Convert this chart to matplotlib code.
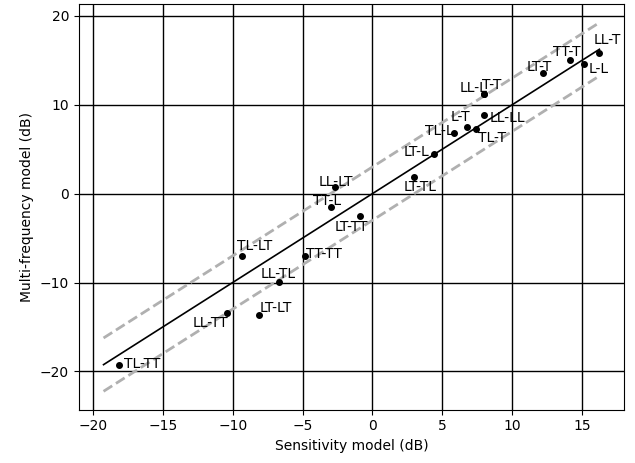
import numpy as np
import matplotlib
matplotlib.use("Agg")
import matplotlib.pyplot as plt

# pair names, sensitivity model (x) and multi-frequency model (y), dB
names = ["LL-T", "TT-T", "L-L", "LT-T", "LL-L", "T-T", "LL-LL", "L-T", "TL-T",
         "TL-L", "LT-L", "LT-TL", "LL-LT", "TT-L", "LT-TT", "TL-LT", "TT-TT",
         "LL-TL", "LT-LT", "LL-TT", "TL-TT"]
sens_db = [16.24, 14.1, 15.17, 12.19, 7.95, 7.97, 7.95, 6.74, 7.38,
           5.81, 4.38, 2.95, -2.69, -3.0, -0.9, -9.33, -4.79,
           -6.71, -8.14, -10.38, -18.12]
multi_db = [15.86, 15.0, 14.58, 13.6, 11.2, 11.22, 8.83, 7.44, 7.25,
            6.84, 4.47, 1.84, 0.71, -1.5, -2.56, -6.99, -7.03,
            -9.96, -13.7, -13.4, -19.24]
band_db = 3.0

# label placement (offset in pixels, alignment)
label_pos = {
    "LL-T": (8, 13, "center"), "TT-T": (-3, 8, "center"), "L-L": (4, -5, "left"),
    "LT-T": (-4, 6, "center"), "LL-L": (4, 6, "right"), "T-T": (-2, 9, "left"),
    "LL-LL": (6, -3, "left"), "L-T": (-6, 10, "center"), "TL-T": (2, -9, "left"),
    "TL-L": (0, 2, "right"), "LT-L": (-4, 2, "right"), "LT-TL": (6, -10, "center"),
    "LL-LT": (1, 5, "center"), "TT-L": (-3, 6, "center"), "LT-TT": (-8, -11, "center"),
    "TL-LT": (-5, 10, "left"), "TT-TT": (1, 2, "left"), "LL-TL": (0, 8, "center"),
    "LT-LT": (1, 7, "left"), "LL-TT": (1, -10, "right"), "TL-TT": (5, 1, "left"),
}

x = np.array(sens_db)
y = np.array(multi_db)
lo = min(x.min(), y.min())
hi = max(x.max(), y.max())
ref = np.array([lo, hi])

fig, ax = plt.subplots(figsize=(6.35, 4.63), dpi=100)
fig.subplots_adjust(left=0.124, right=0.983, top=0.991, bottom=0.115)

ax.plot(ref, ref, color="black", linewidth=1.2)
ax.plot(ref, ref + band_db, color="#b0b0b0", linestyle="--", linewidth=2)
ax.plot(ref, ref - band_db, color="#b0b0b0", linestyle="--", linewidth=2)
ax.plot(x, y, "o", color="black", markersize=4)

for name, xi, yi in zip(names, x, y):
    dx, dy, ha = label_pos[name]
    ax.annotate(name, (xi, yi), xytext=(dx, dy), textcoords="offset pixels",
                ha=ha, va="center", fontsize=10)

ax.grid(True, color="black", linewidth=1)
ax.set_axisbelow(True)
ax.set_xlabel("Sensitivity model (dB)")
ax.set_ylabel("Multi-frequency model (dB)")

fig.savefig("out.png", dpi=100)
